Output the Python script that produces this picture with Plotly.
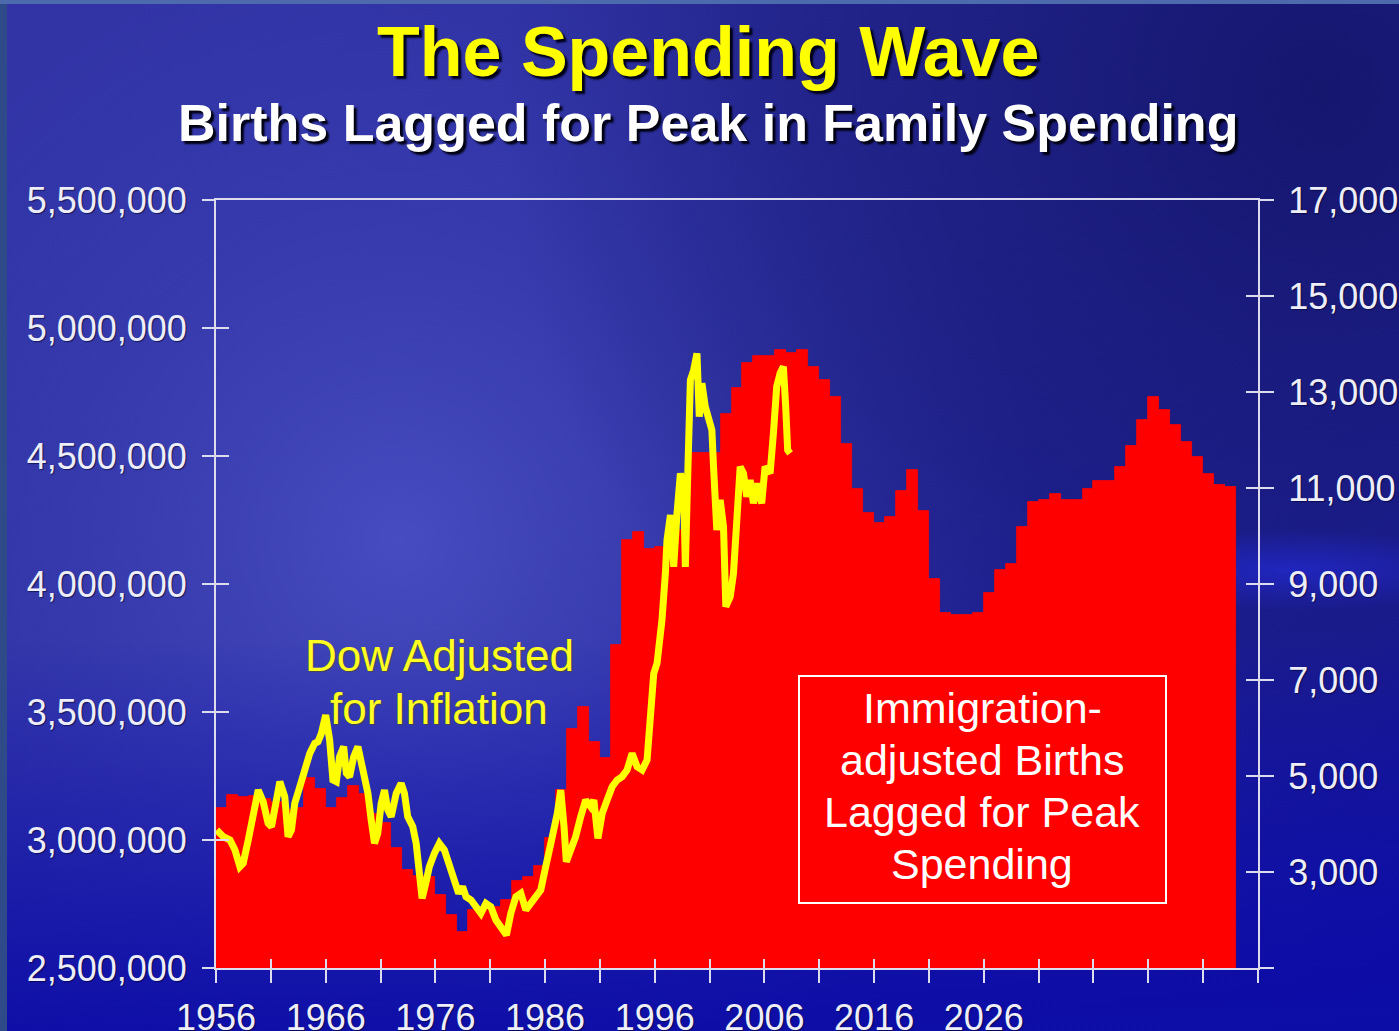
import base64
import plotly.graph_objects as go

# ---------------- data ----------------
years = list(range(1956, 2049))
births = [
    3124000, 3176000, 3169000, 3170000, 3160000, 3150000, 3117000, 3124000, 3242000, 3199000,
    3124000, 3165000, 3211000, 3180000, 3100000, 3066000, 2969000, 2883000, 2860000, 2856000,
    2785000, 2707000, 2642000, 2727000, 2727000, 2740000, 2766000, 2840000, 2856000, 2898000,
    3008000, 3195000, 3432000, 3518000, 3384000, 3319000, 3762000, 4170000, 4203000, 4138000,
    4146000, 4211000, 4211000, 4512000, 4512000, 4512000, 4664000, 4765000, 4864000, 4891000,
    4891000, 4914000, 4903000, 4914000, 4848000, 4797000, 4730000, 4547000, 4371000, 4277000,
    4238000, 4262000, 4363000, 4445000, 4285000, 4020000, 3887000, 3879000, 3879000, 3887000,
    3965000, 4055000, 4078000, 4223000, 4320000, 4328000, 4352000, 4328000, 4328000, 4371000,
    4402000, 4402000, 4457000, 4539000, 4641000, 4730000, 4680000, 4621000, 4555000, 4496000,
    4430000, 4387000, 4379000,
]

dow_dates = [
    1956.06, 1956.66, 1957.27, 1957.73, 1958.18, 1958.48, 1958.94, 1959.39, 1959.85, 1960.30,
    1960.75, 1961.06, 1961.36, 1961.82, 1962.27, 1962.57, 1962.88, 1963.18, 1963.64, 1964.09,
    1964.55, 1965.00, 1965.30, 1965.61, 1966.00, 1966.36, 1966.66, 1966.97, 1967.27, 1967.64,
    1967.88, 1968.18, 1968.55, 1968.94, 1969.25, 1969.55, 1969.85, 1970.15, 1970.45, 1970.75,
    1971.06, 1971.36, 1971.66, 1971.97, 1972.43, 1972.88, 1973.18, 1973.48, 1973.94, 1974.25,
    1974.55, 1974.79, 1975.09, 1975.45, 1975.91, 1976.36, 1976.82, 1977.27, 1977.73, 1978.12,
    1978.48, 1978.79, 1979.25, 1979.70, 1980.15, 1980.61, 1981.06, 1981.52, 1981.97, 1982.48,
    1982.88, 1983.34, 1983.79, 1984.25, 1984.70, 1985.15, 1985.61, 1986.06, 1986.36, 1986.66,
    1987.12, 1987.43, 1987.73, 1987.94, 1988.34, 1988.79, 1989.25, 1989.70, 1990.15, 1990.45,
    1990.82, 1991.21, 1991.66, 1992.12, 1992.57, 1993.03, 1993.48, 1993.94, 1994.39, 1994.85,
    1995.30, 1995.61, 1995.91, 1996.21, 1996.66, 1996.97, 1997.12, 1997.43, 1997.73, 1998.03,
    1998.34, 1998.64, 1998.79, 1999.03, 1999.25, 1999.55, 1999.85, 2000.06, 2000.30, 2000.61,
    2000.91, 2001.21, 2001.36, 2001.66, 2001.97, 2002.27, 2002.48, 2002.88, 2003.18, 2003.34,
    2003.57, 2003.79, 2004.09, 2004.39, 2004.70, 2005.00, 2005.30, 2005.75, 2006.06, 2006.52,
    2006.82, 2007.12, 2007.43, 2007.73, 2007.94, 2008.12, 2008.34,
]
dow_values = [
    3875, 3735, 3667, 3458, 3110, 3181, 3667, 4222, 4708, 4465,
    4014, 3944, 4361, 4881, 4569, 3735, 3875, 4431, 4777, 5160,
    5472, 5681, 5715, 5889, 6271, 5750, 4917, 4881, 5402, 5611,
    5056, 4985, 5402, 5611, 5264, 5056, 4639, 4083, 3597, 3806,
    4431, 4708, 4292, 4153, 4639, 4847, 4639, 4153, 3944, 3597,
    2903, 2451, 2729, 3110, 3389, 3597, 3458, 3110, 2764, 2556,
    2694, 2486, 2417, 2278, 2139, 2347, 2278, 2000, 1861, 1687,
    2139, 2486, 2556, 2208, 2347, 2486, 2625, 3110, 3528, 3735,
    4222, 4708, 3944, 3215, 3458, 3735, 4153, 4500, 4361, 4500,
    3702, 4222, 4500, 4777, 4917, 4986, 5125, 5472, 5194, 5125,
    5333, 6236, 7139, 7347, 8250, 9222, 9917, 10437, 9358, 10472,
    11306, 10958, 9358, 11444, 13250, 13458, 13806, 12486, 13181, 12694,
    12486, 12208, 11444, 10125, 10750, 10194, 8528, 8736, 9222, 9917,
    10681, 11444, 11306, 10819, 11167, 10681, 11097, 10681, 11444, 11306,
    12139, 13111, 13389, 13528, 12694, 11792, 11722,
]

x_tick_years = list(range(1956, 2052, 5))
x_label_years = list(range(1956, 2027, 10))
left_ticks = [2500000, 3000000, 3500000, 4000000, 4500000, 5000000, 5500000]
right_ticks = [1000, 3000, 5000, 7000, 9000, 11000, 13000, 15000, 17000]

title_text = "The Spending Wave"
subtitle_text = "Births Lagged for Peak in Family Spending"
dow_label_lines = ["Dow Adjusted", "for Inflation"]
births_label_lines = ["Immigration-", "adjusted Births", "Lagged for Peak", "Spending"]

# ---------------- layout geometry ----------------
W, H = 1399, 1031
L, R, T, B = 216, 1399 - 1258, 200, 1031 - 968
PW, PH = W - L - R, H - T - B


def px_x(x):
    return (x - L) / PW


def px_y(y):
    return (H - B - y) / PH


FONT = "Liberation Sans, Arial, sans-serif"
AXIS_COL = "#dcdcee"
TICK_FONT = dict(family=FONT, size=36, color="#eeeef8", shadow="1px 1px 1px rgba(0,0,40,0.6)")

# background (gradient) as inline svg
svg = f"""<svg xmlns="http://www.w3.org/2000/svg" width="{W}" height="{H}" viewBox="0 0 {W} {H}" preserveAspectRatio="none">
<defs>
<linearGradient id="base" x1="0" y1="0" x2="1" y2="1">
<stop offset="0" stop-color="#3234a6"/>
<stop offset="0.45" stop-color="#2a2c9c"/>
<stop offset="1" stop-color="#0d0d9a"/>
</linearGradient>
<radialGradient id="glow" cx="400" cy="540" r="640" gradientUnits="userSpaceOnUse">
<stop offset="0" stop-color="#474cc0" stop-opacity="1"/>
<stop offset="0.55" stop-color="#3a3fb2" stop-opacity="0.6"/>
<stop offset="1" stop-color="#3a3fb2" stop-opacity="0"/>
</radialGradient>
<radialGradient id="dark" cx="1320" cy="90" r="820" gradientUnits="userSpaceOnUse">
<stop offset="0" stop-color="#15166e" stop-opacity="1"/>
<stop offset="0.6" stop-color="#1a1c7c" stop-opacity="0.6"/>
<stop offset="1" stop-color="#1a1c7c" stop-opacity="0"/>
</radialGradient>
<linearGradient id="bottom" x1="0" y1="0" x2="0" y2="1">
<stop offset="0.62" stop-color="#1010b4" stop-opacity="0"/>
<stop offset="1" stop-color="#0c0ca8" stop-opacity="0.9"/>
</linearGradient>
<radialGradient id="streak" cx="0.5" cy="0.5" r="0.5">
<stop offset="0" stop-color="#2228cc" stop-opacity="0.8"/>
<stop offset="1" stop-color="#2228cc" stop-opacity="0"/>
</radialGradient>
</defs>
<rect width="{W}" height="{H}" fill="url(#base)"/>
<rect width="{W}" height="{H}" fill="url(#glow)"/>
<rect width="{W}" height="{H}" fill="url(#dark)"/>
<rect width="{W}" height="{H}" fill="url(#bottom)"/>
<ellipse cx="1290" cy="570" rx="220" ry="40" fill="url(#streak)"/>
<rect x="0" y="0" width="7" height="{H}" fill="#2f4a88"/>
<rect x="0" y="0" width="{W}" height="4" fill="#4c6aac"/>
</svg>"""
bg_uri = "data:image/svg+xml;base64," + base64.b64encode(svg.encode()).decode()

# ---------------- figure ----------------
fig = go.Figure()

fig.add_trace(go.Bar(
    x=[y + 0.5 for y in years], y=births, width=1,
    marker=dict(color="#FF0000", line=dict(color="#FF0000", width=0.8)),
    xaxis="x", yaxis="y", hoverinfo="skip", showlegend=False,
))

fig.add_trace(go.Scatter(
    x=dow_dates, y=dow_values, mode="lines",
    line=dict(color="#FFFF00", width=7),
    xaxis="x", yaxis="y2", hoverinfo="skip", showlegend=False,
))

# dummy traces so the inner-tick overlay axes get drawn
fig.add_trace(go.Scatter(x=[None], y=[None], xaxis="x2", yaxis="y3", showlegend=False, hoverinfo="skip"))
fig.add_trace(go.Scatter(x=[None], y=[None], xaxis="x", yaxis="y4", showlegend=False, hoverinfo="skip"))

x_ticktext = [str(v) if v in x_label_years else "" for v in x_tick_years]
right_ticktext = ["" if v == 1000 else f"{v:,}" for v in right_ticks]

common = dict(showgrid=False, zeroline=False, automargin=False)

fig.update_layout(
    template="none",
    width=W, height=H, autosize=False,
    margin=dict(l=L, r=R, t=T, b=B, pad=0, autoexpand=False),
    paper_bgcolor="#22259a",
    plot_bgcolor="rgba(0,0,0,0)",
    bargap=0,
    showlegend=False,
    xaxis=dict(
        range=[1956, 2051], tickmode="array", tickvals=x_tick_years, ticktext=x_ticktext,
        ticks="outside", ticklen=13, tickwidth=2, tickcolor=AXIS_COL,
        showline=True, linecolor=AXIS_COL, linewidth=2, mirror=True,
        tickfont=TICK_FONT, ticklabelstandoff=4, **common,
    ),
    xaxis2=dict(
        range=[1956, 2051], overlaying="x", side="bottom", anchor="y3",
        tickmode="array", tickvals=x_tick_years, showticklabels=False,
        ticks="inside", ticklen=9, tickwidth=2, tickcolor=AXIS_COL,
        showline=False, **common,
    ),
    yaxis=dict(
        range=[2500000, 5500000], tickmode="array", tickvals=left_ticks, tickformat=",d",
        ticks="outside", ticklen=12, tickwidth=2, tickcolor=AXIS_COL,
        showline=True, linecolor=AXIS_COL, linewidth=2,
        tickfont=TICK_FONT, ticklabelstandoff=8, **common,
    ),
    yaxis2=dict(
        range=[1000, 17000], overlaying="y", side="right", anchor="x",
        tickmode="array", tickvals=right_ticks, ticktext=right_ticktext,
        ticks="outside", ticklen=14, tickwidth=2, tickcolor=AXIS_COL,
        showline=True, linecolor=AXIS_COL, linewidth=2,
        tickfont=TICK_FONT, ticklabelstandoff=7, **common,
    ),
    yaxis3=dict(
        range=[2500000, 5500000], overlaying="y", side="left", anchor="x",
        tickmode="array", tickvals=left_ticks, showticklabels=False,
        ticks="inside", ticklen=13, tickwidth=2, tickcolor=AXIS_COL,
        showline=False, **common,
    ),
    yaxis4=dict(
        range=[1000, 17000], overlaying="y", side="right", anchor="x",
        tickmode="array", tickvals=right_ticks, showticklabels=False,
        ticks="inside", ticklen=12, tickwidth=2, tickcolor=AXIS_COL,
        showline=False, **common,
    ),
    images=[dict(
        source=bg_uri, xref="paper", yref="paper",
        x=-L / PW, y=1 + T / PH, sizex=W / PW, sizey=H / PH,
        xanchor="left", yanchor="top", sizing="stretch", layer="below",
    )],
    shapes=[dict(
        type="rect", xref="paper", yref="paper",
        x0=px_x(799), x1=px_x(1166), y0=px_y(903), y1=px_y(676),
        line=dict(color="#FFFFFF", width=2), fillcolor="#FF0000", layer="above",
    )],
)

annotations = [
    dict(text=title_text, x=px_x(708), y=px_y(52), xref="paper", yref="paper",
         showarrow=False, xanchor="center", yanchor="middle",
         font=dict(family=FONT, size=70, color="#FFFF00", weight="bold",
                   shadow="3px 3px 2px #000018")),
    dict(text=subtitle_text, x=px_x(708), y=px_y(123), xref="paper", yref="paper",
         showarrow=False, xanchor="center", yanchor="middle",
         font=dict(family=FONT, size=52, color="#FFFFFF", weight="bold",
                   shadow="3px 3px 2px #000010")),
]
for i, line in enumerate(dow_label_lines):
    annotations.append(dict(
        text=line, x=px_x(439), y=px_y(655 + i * 53.5), xref="paper", yref="paper",
        showarrow=False, xanchor="center", yanchor="middle",
        font=dict(family=FONT, size=44, color="#FFFF22",
                  shadow="1px 1px 1px rgba(80,80,0,0.6)"),
    ))
for i, line in enumerate(births_label_lines):
    annotations.append(dict(
        text=line, x=px_x(982), y=px_y(708 + i * 52), xref="paper", yref="paper",
        showarrow=False, xanchor="center", yanchor="middle",
        font=dict(family=FONT, size=43, color="#FFFFFF"),
    ))
fig.update_layout(annotations=annotations)

fig.write_html(
    "out.html",
    config={"displayModeBar": False},
    post_script="document.body.style.margin='0';document.body.style.overflow='hidden';",
)
